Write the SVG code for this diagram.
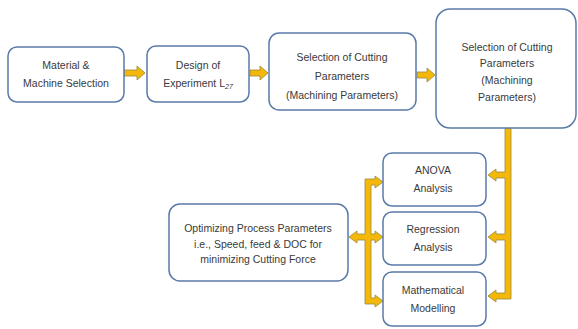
<svg xmlns="http://www.w3.org/2000/svg" width="578" height="329" viewBox="0 0 578 329">
<style>
.box{fill:#fff;stroke:#5a7aa8;stroke-width:1.5}
.t{font-family:"Liberation Sans",Arial,sans-serif;font-size:10.5px;fill:#3a3a3a;text-anchor:middle}
.arr{fill:#f3b80a;stroke:#9c8a3a;stroke-width:0.8;stroke-linejoin:miter}
</style>
<rect width="578" height="329" fill="#fff"/>
<g id="connectors">
<path class="arr" d="M124,70 L137,70 L137,66 L145,73 L137,80 L137,76 L124,76 Z"/>
<path class="arr" d="M250,70 L260,70 L260,66 L268,73 L260,80 L260,76 L250,76 Z"/>
<path class="arr" d="M417,72 L427,72 L427,68 L435,75 L427,82 L427,78 L417,78 Z"/>
<path class="arr" d="M505,128 L511,128 L511,299 L496,299 L496,302 L488,296 L496,290 L496,293 L505,293 L505,240 L496,240 L496,243 L488,237 L496,231 L496,234 L505,234 L505,178 L496,178 L496,181 L488,175 L496,169 L496,172 L505,172 Z"/>
<path class="arr" d="M365,179 L375,179 L375,176 L383,182 L375,188 L375,185 L371,185 L371,234 L375,234 L375,231 L383,237 L375,243 L375,240 L371,240 L371,298 L375,298 L375,295 L383,301 L375,307 L375,304 L365,304 L365,240 L357,240 L357,243 L349,237 L357,231 L357,234 L365,234 Z"/>
</g>
<g id="n1">
<rect class="box" x="8" y="47" width="116" height="55" rx="9"/>
<text class="t" x="66" y="69">Material &amp;</text>
<text class="t" x="66" y="87">Machine Selection</text>
</g>
<g id="n2">
<rect class="box" x="147" y="46" width="102" height="56" rx="9"/>
<text class="t" x="198" y="69">Design of</text>
<text class="t" x="198" y="87">Experiment L<tspan font-size="7" dy="2" font-style="italic">27</tspan></text>
</g>
<g id="n3">
<rect class="box" x="269" y="33" width="147" height="77" rx="10"/>
<text class="t" x="342" y="61">Selection of Cutting</text>
<text class="t" x="342" y="80">Parameters</text>
<text class="t" x="342" y="99">(Machining Parameters)</text>
</g>
<g id="n4">
<rect class="box" x="436" y="9" width="140" height="119" rx="14"/>
<text class="t" x="507" y="51">Selection of Cutting</text>
<text class="t" x="507" y="67">Parameters</text>
<text class="t" x="507" y="84">(Machining</text>
<text class="t" x="507" y="101">Parameters)</text>
</g>
<g id="n5">
<rect class="box" x="383" y="153" width="103" height="53" rx="9"/>
<text class="t" x="433" y="174">ANOVA</text>
<text class="t" x="433" y="192">Analysis</text>
</g>
<g id="n6">
<rect class="box" x="383" y="212" width="103" height="53" rx="9"/>
<text class="t" x="433" y="233">Regression</text>
<text class="t" x="433" y="251">Analysis</text>
</g>
<g id="n7">
<rect class="box" x="383" y="272" width="103" height="54" rx="9"/>
<text class="t" x="433" y="294">Mathematical</text>
<text class="t" x="433" y="312">Modelling</text>
</g>
<g id="n8">
<rect class="box" x="169" y="204" width="179" height="77" rx="11"/>
<text class="t" x="258" y="232">Optimizing Process Parameters</text>
<text class="t" x="258" y="248">i.e., Speed, feed &amp; DOC for</text>
<text class="t" x="258" y="263">minimizing Cutting Force</text>
</g>
</svg>
